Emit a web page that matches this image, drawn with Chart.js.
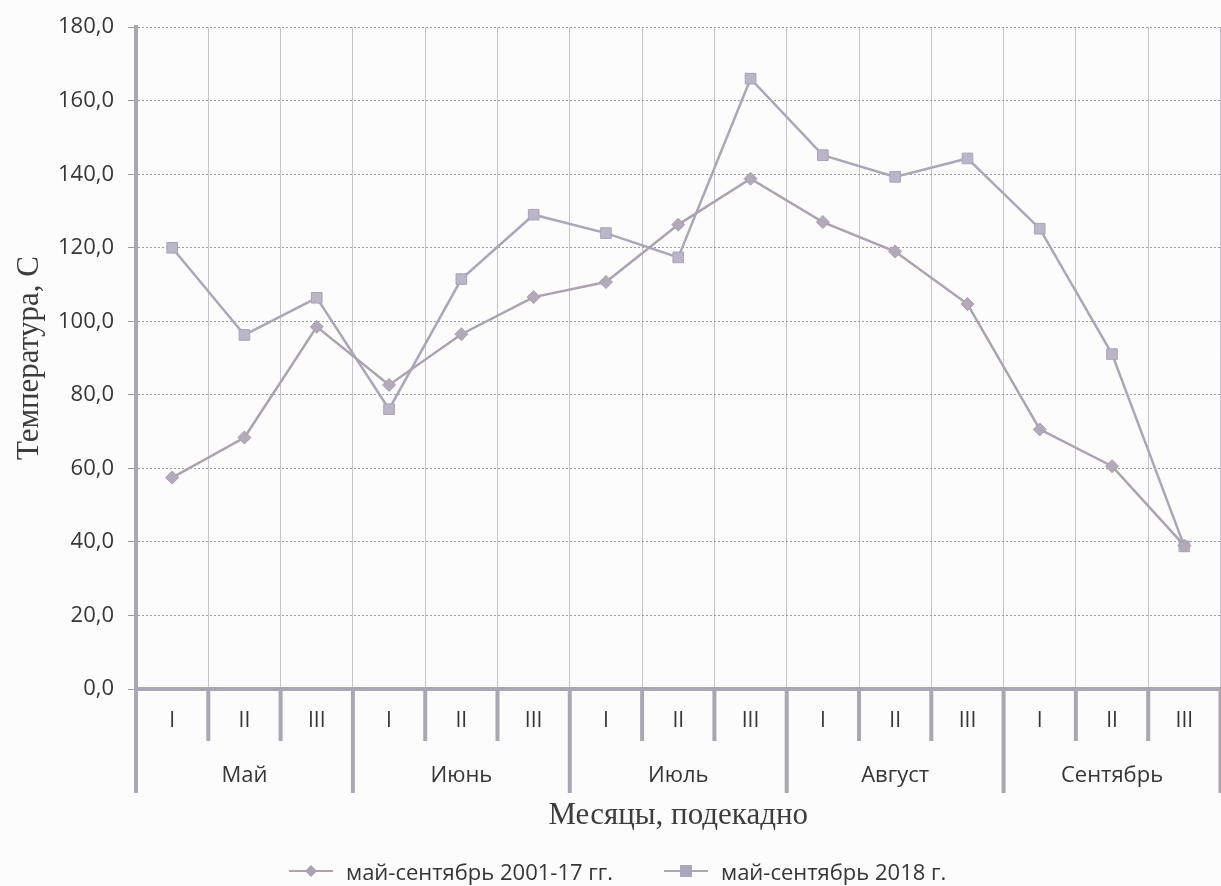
<!DOCTYPE html>
<html>
<head>
<meta charset="utf-8">
<script src="https://cdn.jsdelivr.net/npm/chart.js@4/dist/chart.umd.min.js"></script>
<style>
  html, body { margin: 0; padding: 0; background: #fcfcfc; }
  #wrap { width: 1221px; height: 886px; position: relative; overflow: hidden; }
  #c { display: block; }
  #legend { position: absolute; left: 0; top: 856px; width: 1221px; height: 30px;
            font-family: 'Open Sans', sans-serif; font-size: 22px; line-height: 30px; color: #363636; white-space: nowrap; }
  #legend .item { position: absolute; top: 0; height: 30px; display: flex; align-items: center; }
  #legend canvas { margin-right: 13px; }
</style>
</head>
<body>
<div id="wrap">
  <canvas id="c" width="1229" height="886"></canvas>
  <div id="legend"></div>
</div>
<script>
// ---- data ----
const decades = ['I','II','III','I','II','III','I','II','III','I','II','III','I','II','III'];
const months = ['Май','Июнь','Июль','Август','Сентябрь'];
const series2001_17 = [57.5, 68.4, 98.5, 82.7, 96.5, 106.6, 110.7, 126.3, 138.8, 127.0, 119.0, 104.7, 70.6, 60.6, 39.0];
const series2018 = [120.0, 96.3, 106.4, 76.1, 111.5, 129.0, 124.0, 117.4, 166.0, 145.2, 139.3, 144.3, 125.2, 91.1, 38.8];
const seriesNames = ['май-сентябрь 2001-17 гг.', 'май-сентябрь 2018 г.'];
const yTitle = 'Температура, С';
const xTitle = 'Месяцы, подекадно';

const AXIS = '#aaa7b2';
const LINE1 = '#aca3b2';
const LINE2 = '#aaa7ba';
const TEXT = '#363636';

function legendIcon(style, color) {
  const cv = document.createElement('canvas');
  cv.width = 44; cv.height = 16;
  const c = cv.getContext('2d');
  c.strokeStyle = color; c.lineWidth = 2;
  c.beginPath(); c.moveTo(0, 8); c.lineTo(44, 8); c.stroke();
  c.fillStyle = color;
  if (style === 'diamond') {
    c.beginPath(); c.moveTo(22, 2); c.lineTo(28, 8); c.lineTo(22, 14); c.lineTo(16, 8); c.closePath(); c.fill();
  } else {
    c.fillRect(16, 2, 12, 12);
  }
  return cv;
}

const ticksPlugin = {
  id: 'decadeTicks',
  afterDraw(chart) {
    const x = chart.scales.x, ctx = chart.ctx, area = chart.chartArea;
    const w = x.getPixelForValue(1) - x.getPixelForValue(0);
    const start = x.getPixelForValue(0) - w / 2;
    ctx.save();
    ctx.strokeStyle = AXIS;
    ctx.lineWidth = 4;
    for (let i = 0; i <= decades.length; i++) {
      const px = start + i * w;
      const longTick = i % 3 === 0;
      ctx.beginPath();
      ctx.moveTo(px, area.bottom);
      ctx.lineTo(px, area.bottom + (longTick ? 104 : 52));
      ctx.stroke();
    }
    ctx.restore();
  }
};

const chart = new Chart(document.getElementById('c'), {
  type: 'line',
  data: {
    labels: decades,
    datasets: [
      {
        label: seriesNames[0], data: series2001_17,
        borderColor: LINE1, backgroundColor: LINE1, borderWidth: 2.5,
        pointStyle: 'rectRot', pointRadius: 6.5, pointHoverRadius: 6.5,
        pointBackgroundColor: '#b3a9b9', pointBorderColor: '#a99fae', pointBorderWidth: 1,
        tension: 0, xAxisID: 'x'
      },
      {
        label: seriesNames[1], data: series2018,
        borderColor: LINE2, backgroundColor: LINE2, borderWidth: 2.5,
        pointStyle: 'rect', pointRadius: 7.5, pointHoverRadius: 7.5,
        pointBackgroundColor: '#bab6c8', pointBorderColor: '#a8a3b6', pointBorderWidth: 1,
        tension: 0, xAxisID: 'x'
      }
    ]
  },
  options: {
    responsive: false,
    animation: false,
    layout: { padding: { top: 19, left: 0, right: 0, bottom: 48 } },
    plugins: {
      tooltip: { enabled: false },
      legend: { display: false }
    },
    scales: {
      x: {
        type: 'category',
        position: 'bottom',
        offset: true,
        grid: { display: true, offset: true, color: '#c4c3ca', lineWidth: 1, drawTicks: false },
        border: { display: true, color: AXIS, width: 4 },
        ticks: { color: TEXT, font: { family: 'Open Sans', size: 21 }, padding: 19, maxRotation: 0, autoSkip: false },
        afterFit(s) { s.height = 52; }
      },
      x2: {
        type: 'category',
        position: 'bottom',
        labels: months,
        offset: true,
        grid: { display: false, drawTicks: false },
        border: { display: false },
        ticks: { color: TEXT, font: { family: 'Open Sans', size: 22 }, padding: 22, maxRotation: 0, autoSkip: false },
        title: { display: true, text: xTitle, color: '#3c3c3c', font: { family: 'Liberation Serif', size: 31 }, padding: { top: 4, bottom: 4 } },
        afterFit(s) { s.height = 97; }
      },
      y: {
        min: 0, max: 180,
        ticks: {
          stepSize: 20, color: TEXT, font: { family: 'Open Sans', size: 22 }, padding: 14,
          callback: v => v.toFixed(1).replace('.', ',')
        },
        grid: { color: '#9b9b9f', lineWidth: 1, tickLength: 8, drawTicks: true },
        border: { display: true, color: AXIS, width: 4, dash: [2, 2] },
        title: { display: true, text: yTitle, color: '#3c3c3c', font: { family: 'Liberation Serif', size: 31 }, padding: { top: 11, bottom: 4 } },
        afterFit(s) { s.width = 136; }
      }
    }
  },
  plugins: [ticksPlugin]
});

// HTML legend built from the datasets
const legendEl = document.getElementById('legend');
const legendLeft = [289, 664];
chart.data.datasets.forEach((ds, i) => {
  const item = document.createElement('span');
  item.className = 'item';
  item.style.left = legendLeft[i] + 'px';
  item.appendChild(legendIcon(i === 0 ? 'diamond' : 'square', ds.borderColor));
  const t = document.createElement('span');
  t.textContent = ds.label;
  item.appendChild(t);
  legendEl.appendChild(item);
});
</script>
</body>
</html>
